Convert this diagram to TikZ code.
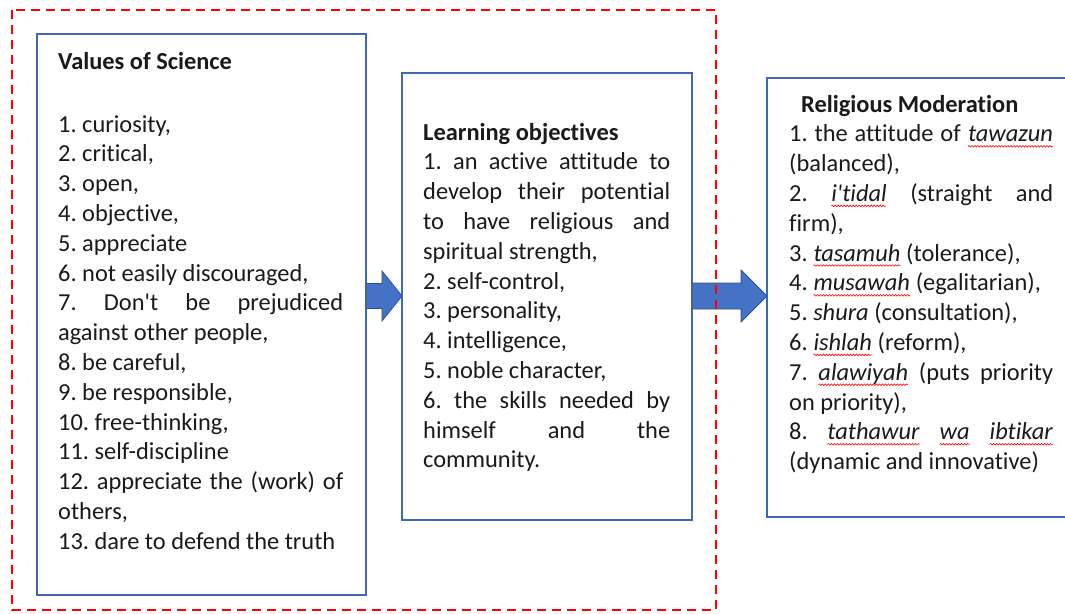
\documentclass[tikz,border=0pt]{standalone}
\usepackage{fontspec}
\setmainfont{Carlito}[Ligatures={TeX,CommonOff}]
\usetikzlibrary{calc,decorations.pathmorphing}
\definecolor{boxblue}{HTML}{4068AC}
\definecolor{arrowblue}{HTML}{4472C4}
\definecolor{arrowline}{HTML}{2F528F}
\definecolor{txt}{HTML}{1A1A1A}
\newcommand\wv[1]{\tikz[baseline=(w.base)]{\node[inner sep=0pt,outer sep=0pt,text width={},align=none,anchor=base] (w) {#1};
  \draw[red,line width=0.6pt,decorate,decoration={snake,amplitude=0.8pt,segment length=3pt}]
   ([yshift=-4.5pt]w.base west) -- ([yshift=-4.5pt]w.base east);}}
\newcommand\panelfont{\fontsize{24.4}{29.8}\selectfont}
\tikzset{
  panel/.style={draw=boxblue, line width=2pt, fill=white, anchor=north west, inner sep=0pt, outer sep=0pt},
  paneltext/.style={anchor=base west, inner sep=0pt, align=justify, text=txt,
     font=\panelfont, execute at begin node={\frenchspacing\hyphenpenalty=10000\relax}},
  blockarrow/.style={fill=arrowblue, draw=arrowline, line width=0.8pt, line join=miter},
  group/.style={draw=red, line width=2pt, dash pattern=on 9pt off 6pt}
}
\begin{document}
\begin{tikzpicture}[x=1pt,y=-1pt]
\clip (0,0) rectangle (1065,613);
\fill[white] (0,0) rectangle (1065,613);
% panels
\node[panel, minimum width=329pt, minimum height=561pt] (b1) at (37,34) {};
\node[panel, minimum width=290pt, minimum height=447pt] (b2) at (402,73) {};
\node[panel, minimum width=320pt, minimum height=439pt] (b3) at (767,78) {};
% texts
\node[paneltext, text width=285pt] (t1) at (58,69.5) {%
\textbf{Values of Science}\\[32.7pt]
1. curiosity,\\
2. critical,\\
3. open,\\
4. objective,\\
5. appreciate\\
6. not easily discouraged,\\
7. Don\textquotesingle t be prejudiced\linebreak against other people,\\
8. be careful,\\
9. be responsible,\\
10. free-thinking,\\
11. self-discipline\\
12. appreciate the (work) of\linebreak others,\\
13. dare to defend the truth};
\node[paneltext, text width=247pt] (t2) at (423,140) {%
\textbf{Learning objectives}\\
1. an active attitude to\linebreak develop their potential\linebreak to have religious and\linebreak spiritual strength,\\
2. self-control,\\
3. personality,\\
4. intelligence,\\
5. noble character,\\
6. the skills needed by\linebreak himself and the\linebreak community.};
\node[paneltext, text width=264pt] (t3) at (789,112) {%
\hspace*{12pt}\textbf{Religious Moderation}\\
1. the attitude of \wv{\textit{tawazun}}\linebreak (balanced),\\
2. \wv{\textit{i\textquotesingle tidal}} (straight and\linebreak firm),\\
3. \wv{\textit{tasamuh}} (tolerance),\\
4. \wv{\textit{musawah}} (egalitarian),\\
5. \textit{shura} (consultation),\\
6. \wv{\textit{ishlah}} (reform),\\
7. \wv{\textit{alawiyah}} (puts priority\linebreak on priority),\\
8. \wv{\textit{tathawur}} \wv{\textit{wa}} \wv{\textit{ibtikar}}\linebreak (dynamic and innovative)};
% arrows
\coordinate (a1s) at (b1.east |- 0,296);
\coordinate (a1e) at (b2.west |- 0,296);
\coordinate (a2s) at (b2.east |- 0,296);
\coordinate (a2e) at (b3.west |- 0,296);
\draw[blockarrow] ($(a1s)+(0,-12.5)$) -- ($(a1e)+(-20,-12.5)$) -- ($(a1e)+(-20,-25)$) -- (a1e)
  -- ($(a1e)+(-20,25)$) -- ($(a1e)+(-20,12.5)$) -- ($(a1s)+(0,12.5)$) -- cycle;
\draw[blockarrow] ($(a2s)+(0,-13)$) -- ($(a2e)+(-26,-13)$) -- ($(a2e)+(-26,-26)$) -- (a2e)
  -- ($(a2e)+(-26,26)$) -- ($(a2e)+(-26,13)$) -- ($(a2s)+(0,13)$) -- cycle;
% dashed group frame
\draw[group] (12,10) rectangle (716,610);
\end{tikzpicture}
\end{document}
